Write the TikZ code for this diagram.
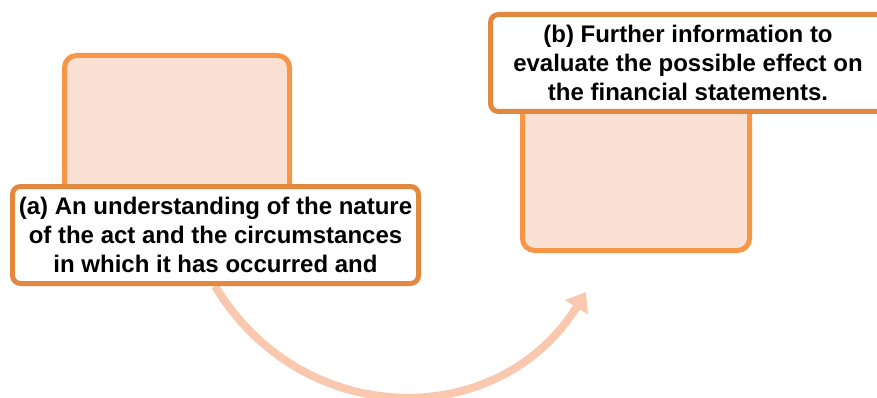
\documentclass[tikz,border=0pt]{standalone}
\usepackage{fontspec}
\setmainfont{Liberation Sans}
\usetikzlibrary{arrows.meta}
\definecolor{bordo}{HTML}{F79646}
\definecolor{bordoscuro}{HTML}{E2893F}
\definecolor{riempi}{HTML}{FBE0D4}
\definecolor{freccia}{HTML}{F9C8AE}
\begin{document}
\begin{tikzpicture}[x=1pt,y=1pt,
  sfondo/.style={draw=bordo, fill=riempi, line width=5pt, rounded corners=12pt},
  etichetta/.style={draw=bordoscuro, fill=white, line width=5pt, rounded corners=8pt,
    align=center, inner sep=0pt, font=\bfseries\fontsize{24}{29}\selectfont},
  flow/.style={draw=freccia, line width=8pt, -{Triangle[length=18pt,width=26pt]}}]
\useasboundingbox (0,0) rectangle (877,-398);

%riquadro a
\node[sfondo, minimum width=225, minimum height=175] (backa) at (177,-143) {};
%riquadro b
\node[sfondo, minimum width=227, minimum height=190] (backb) at (636,-155.5) {};

%freccia
\coordinate (arcend) at (586,-292);
\draw[flow] (215,-286) to[out=-59, in=238, looseness=1.15] (arcend);

%etichette
\node[etichetta, minimum width=406, minimum height=97] (la) at (215.5,-235)
  {(a) An understanding of the nature\\of the act and the circumstances\\in which it has occurred and};
\node[etichetta, minimum width=395, minimum height=97] (lb) at (688,-63)
  {(b) Further information to\\evaluate the possible effect on\\the financial statements.};
\end{tikzpicture}
\end{document}
